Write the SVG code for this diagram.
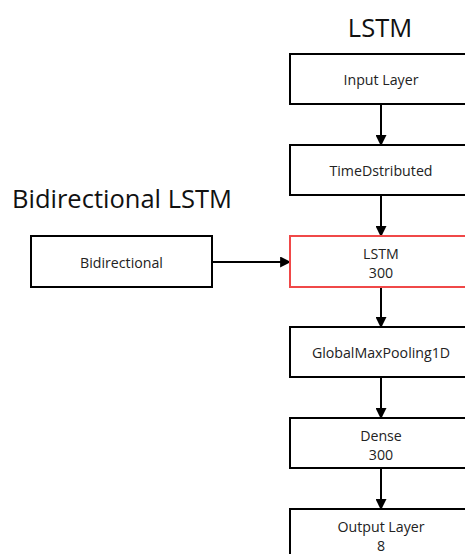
<svg xmlns="http://www.w3.org/2000/svg" width="465" height="554" viewBox="0 0 465 554">
<defs>
<style>
.box{fill:#fff;stroke:#000;stroke-width:2}
.red{stroke:#f04848}
.lbl{font-family:"Open Sans",sans-serif;font-size:14.2px;fill:#222;text-anchor:middle;dominant-baseline:central}
.title{font-family:"Open Sans",sans-serif;font-size:25.5px;fill:#111}
.conn{stroke:#000;stroke-width:2;fill:none;marker-end:url(#ah)}
</style>
<marker id="ah" viewBox="0 0 10 10" refX="9" refY="5" markerWidth="5.5" markerHeight="5.5" orient="auto" markerUnits="strokeWidth">
<path d="M0,0 L10,5 L0,10 z" fill="#000"/>
</marker>
</defs>
<rect width="465" height="554" fill="#fff"/>
<text class="title" x="380" y="37" text-anchor="middle">LSTM</text>
<text class="title" x="12" y="208">Bidirectional LSTM</text>
<g id="connectors">
<line class="conn" x1="381" y1="104" x2="381" y2="145"/>
<line class="conn" x1="381" y1="195" x2="381" y2="236"/>
<line class="conn" x1="381" y1="287" x2="381" y2="327"/>
<line class="conn" x1="381" y1="377" x2="381" y2="418"/>
<line class="conn" x1="381" y1="468" x2="381" y2="509"/>
<line class="conn" x1="212" y1="262" x2="290" y2="262"/>
</g>
<g id="input"><rect class="box" x="290" y="54" width="182" height="50"/><text class="lbl" x="381" y="79">Input Layer</text></g>
<g id="timedist"><rect class="box" x="290" y="145" width="182" height="50"/><text class="lbl" x="381" y="170">TimeDstributed</text></g>
<g id="lstm"><rect class="box red" x="290" y="236" width="182" height="51"/><text class="lbl" x="381" y="253">LSTM</text><text class="lbl" x="381" y="272">300</text></g>
<g id="gmp"><rect class="box" x="290" y="327" width="182" height="50"/><text class="lbl" x="381" y="352">GlobalMaxPooling1D</text></g>
<g id="dense"><rect class="box" x="290" y="418" width="182" height="50"/><text class="lbl" x="381" y="435">Dense</text><text class="lbl" x="381" y="454">300</text></g>
<g id="output"><rect class="box" x="290" y="509" width="182" height="60"/><text class="lbl" x="381" y="526">Output Layer</text><text class="lbl" x="381" y="545">8</text></g>
<g id="bidir"><rect class="box" x="31" y="236" width="181" height="51"/><text class="lbl" x="121.5" y="262">Bidirectional</text></g>
</svg>
